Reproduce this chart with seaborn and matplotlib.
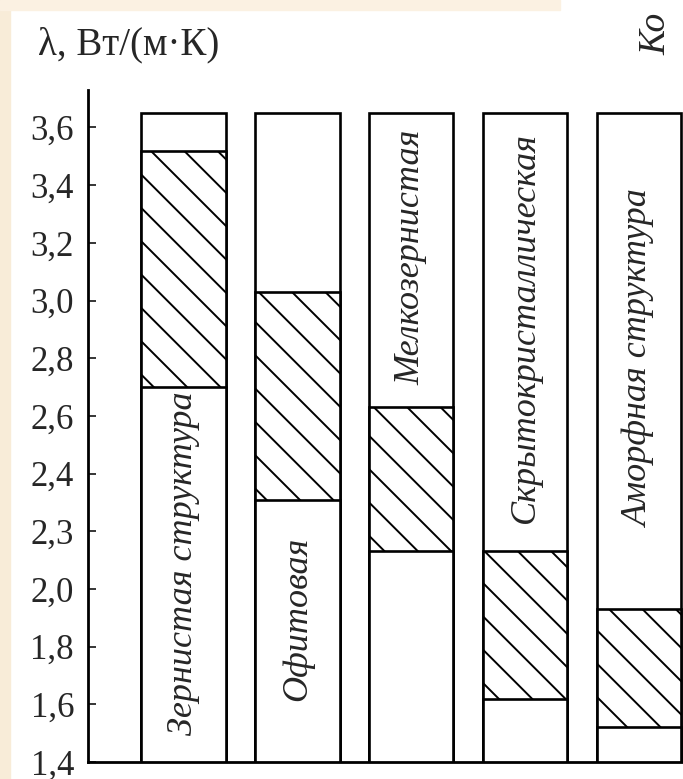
import numpy as np
import pandas as pd
import matplotlib
matplotlib.use('Agg')
import matplotlib.pyplot as plt
from matplotlib.patches import Rectangle
import seaborn as sns

# данные
categories = ['Зернистая структура', 'Офитовая', 'Мелкозернистая',
              'Скрытокристаллическая', 'Аморфная структура']
col_top = [3.65, 3.65, 3.65, 3.65, 3.65]
band_high = [3.52, 3.03, 2.63, 2.13, 1.93]
band_low = [2.70, 2.31, 2.13, 1.62, 1.52]
tick_values = [1.4, 1.6, 1.8, 2.0, 2.2, 2.4, 2.6, 2.8, 3.0, 3.2, 3.4, 3.6]
tick_labels = ['1,4', '1,6', '1,8', '2,0', '2,3', '2,4', '2,6', '2,8', '3,0', '3,2', '3,4', '3,6']

# положение подписей внутри столбцов (по оси y)
label_y = [2.09, 1.895, 3.15, 2.905, 2.80]

sns.set_style('white')
plt.rcParams['font.family'] = ['Liberation Serif', 'DejaVu Serif']
plt.rcParams['hatch.linewidth'] = 1.4

df = pd.DataFrame({'cat': categories, 'top': col_top,
                   'high': band_high, 'low': band_low})

fig = plt.figure(figsize=(6.83, 7.79), dpi=100)
fig.patch.set_facecolor('white')
# желтоватые края скана
fig.patches.append(Rectangle((0, 0), 10 / 683, 1, transform=fig.transFigure,
                             color='#f8ecd8', zorder=0))
fig.patches.append(Rectangle((0, 1 - 10 / 779), 560 / 683, 10 / 779,
                             transform=fig.transFigure, color='#fbf1e2', zorder=0))

ax = fig.add_axes([88 / 683, 17 / 779, 595 / 683, 672 / 779])
ax.patch.set_alpha(0)

lw = 1.9
sns.barplot(data=df, x='cat', y='top', color='white', edgecolor='black',
            linewidth=lw, width=0.74, saturation=1, ax=ax)
sns.barplot(data=df, x='cat', y='high', color='white', edgecolor='black',
            linewidth=lw, width=0.74, saturation=1, hatch='\\', ax=ax)
sns.barplot(data=df, x='cat', y='low', color='white', edgecolor='black',
            linewidth=lw, width=0.74, saturation=1, ax=ax)

ax.set_xlim(-0.838, 4.385)
ax.set_ylim(1.40, 3.73)
ax.set_xticks([])
ax.set_xlabel('')
ax.set_ylabel('')
ax.set_yticks(tick_values)
ax.set_yticklabels(tick_labels, fontsize=25)
ax.tick_params(axis='y', direction='in', length=6, width=1.3, pad=10, left=True)

for s in ['top', 'right']:
    ax.spines[s].set_visible(False)
for s in ['left', 'bottom']:
    ax.spines[s].set_linewidth(2.0)
    ax.spines[s].set_color('black')

for i, name in enumerate(categories):
    ax.text(i, label_y[i], name, rotation=90, ha='center', va='center',
            fontsize=26, style='italic')

fig.text(38 / 683, 1 - 45 / 779, 'λ, Вт/(м·К)', ha='left', va='center', fontsize=28)
fig.text(656 / 683, 1 - 34 / 779, 'Ко', rotation=90, ha='center', va='center',
         fontsize=27, style='italic')

fig.savefig('out.png', dpi=100)
